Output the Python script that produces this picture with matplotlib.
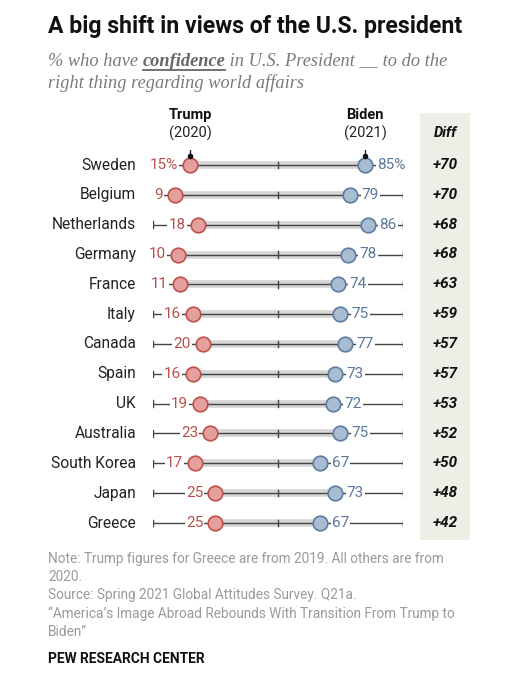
import matplotlib
matplotlib.use("Agg")
import matplotlib.pyplot as plt
from matplotlib.patches import Rectangle

countries = ["Sweden", "Belgium", "Netherlands", "Germany", "France", "Italy", "Canada",
             "Spain", "UK", "Australia", "South Korea", "Japan", "Greece"]
trump = [15, 9, 18, 10, 11, 16, 20, 16, 19, 23, 17, 25, 25]
biden = [85, 79, 86, 78, 74, 75, 77, 73, 72, 75, 67, 73, 67]
diff = [70, 70, 68, 68, 63, 59, 57, 57, 53, 52, 50, 48, 42]
axis_ticks = [0, 50, 100]

W, H = 516, 680
fig = plt.figure(figsize=(W / 100, H / 100), dpi=100)
fig.patch.set_facecolor("white")

def fx(px):
    return px / W

def fy(py):
    return 1 - py / H

SANS = ["Roboto", "DejaVu Sans"]
SERIF = ["Liberation Serif", "DejaVu Serif"]

# Diff column background
fig.patches.append(Rectangle((fx(420), fy(540)), fx(470) - fx(420), fy(113) - fy(540),
                             transform=fig.transFigure, facecolor="#efeee6", edgecolor="none", zorder=0))

# main axes: x 0..100 -> px 152.5..402.5 ; rows 0..12 -> py 165..523
row_h = (523 - 165) / 12
top_px = 165 - row_h / 2
bot_px = 523 + row_h / 2
ax = fig.add_axes([fx(152.5), fy(bot_px), fx(402.5) - fx(152.5), fy(top_px) - fy(bot_px)])
ax.set_xlim(0, 100)
ax.set_ylim(len(countries) - 0.5, -0.5)
ax.axis("off")
ax.patch.set_alpha(0)

RED_FILL, RED_EDGE, RED_TXT = "#e3a09d", "#c0504b", "#b9504b"
BLUE_FILL, BLUE_EDGE, BLUE_TXT = "#a8bdd2", "#5b7ca0", "#5a789c"
LINE = "#444444"

for i, c in enumerate(countries):
    t, b = trump[i], biden[i]
    # thin axis line
    ax.plot([axis_ticks[0], axis_ticks[-1]], [i, i], color=LINE, lw=1.0, zorder=2, solid_capstyle="butt")
    for tk in axis_ticks:
        ax.plot([tk, tk], [i - 0.11, i + 0.11], color=LINE, lw=1.0, zorder=2)
    # grey band
    ax.plot([t, b], [i, i], color="#d6d6d6", lw=5.5, zorder=1, solid_capstyle="butt")
    # dots
    ax.plot([t], [i], "o", ms=10.5, mfc=RED_FILL, mec=RED_EDGE, mew=1.2, zorder=5)
    ax.plot([b], [i], "o", ms=10.5, mfc=BLUE_FILL, mec=BLUE_EDGE, mew=1.2, zorder=5)
    tl = f"{t}%" if i == 0 else f"{t}"
    bl = f"{b}%" if i == 0 else f"{b}"
    ax.annotate(tl, (t, i), xytext=(-8.5, 0), textcoords="offset points", ha="right", va="center",
                fontsize=11, color=RED_TXT, family=SANS, zorder=4,
                bbox=dict(boxstyle="square,pad=0.08", fc="white", ec="none"))
    ax.annotate(bl, (b, i), xytext=(8.5, 0), textcoords="offset points", ha="left", va="center",
                fontsize=11, color=BLUE_TXT, family=SANS, zorder=4,
                bbox=dict(boxstyle="square,pad=0.08", fc="white", ec="none"))
    # country label
    fig.text(fx(136), fy(165 + i * row_h), c, ha="right", va="center", fontsize=11.2,
             color="#222222", family=SANS)
    # diff
    fig.text(fx(445), fy(165 + i * row_h), f"+{diff[i]}", ha="center", va="center", fontsize=11,
             color="#111111", family=SANS, weight="bold", style="italic")

# headers
for xv, name, yr in [(trump[0], "Trump", "(2020)"), (biden[0], "Biden", "(2021)")]:
    ax.plot([xv, xv], [-0.75, -0.3], color="#222", lw=1.0, zorder=6)
    ax.plot([xv], [-0.3], "o", ms=3, color="#111", zorder=6)
    xpix = 152.5 + xv * 2.5
    fig.text(fx(xpix), fy(115), name, ha="center", va="center", fontsize=10.5, weight="bold",
             color="#111", family=SANS)
    fig.text(fx(xpix), fy(133), yr, ha="center", va="center", fontsize=10.5, color="#222", family=SANS)

fig.text(fx(445), fy(133), "Diff", ha="center", va="center", fontsize=10.5, weight="bold",
         style="italic", color="#111", family=SANS)

# title
fig.text(fx(48), fy(26), "A big shift in views of the U.S. president", ha="left", va="center",
         fontsize=16.6, weight="bold", color="#111", family=SANS)

# subtitle with bold underlined word
fig.canvas.draw()
renderer = fig.canvas.get_renderer()
sub_col = "#7a7a7a"
SFS = 13.2
sy = fy(61)
t1 = fig.text(fx(48), sy, "% who have ", ha="left", va="center", fontsize=SFS, style="italic",
              color=sub_col, family=SERIF)
bb1 = t1.get_window_extent(renderer)
t2 = fig.text(bb1.x1 / W, sy, "confidence", ha="left", va="center", fontsize=SFS, style="italic",
              weight="bold", color="#666666", family=SERIF)
bb2 = t2.get_window_extent(renderer)
fig.lines.append(plt.Line2D([bb2.x0 / W, bb2.x1 / W], [fy(69.5), fy(69.5)], transform=fig.transFigure,
                            color="#666666", lw=1.3))
fig.text(bb2.x1 / W, sy, " in U.S. President __ to do the", ha="left", va="center", fontsize=SFS,
         style="italic", color=sub_col, family=SERIF)
fig.text(fx(48), fy(83), "right thing regarding world affairs", ha="left", va="center", fontsize=SFS,
         style="italic", color=sub_col, family=SERIF)

# notes
notes = ["Note: Trump figures for Greece are from 2019. All others are from",
         "2020.",
         "Source: Spring 2021 Global Attitudes Survey. Q21a.",
         "\u201cAmerica\u2019s Image Abroad Rebounds With Transition From Trump to",
         "Biden\u201d"]
for k, ln in enumerate(notes):
    fig.text(fx(48), fy(559 + k * 18.2), ln, ha="left", va="center", fontsize=9.8, color="#9a9a9a",
             family=SANS)
fig.text(fx(48), fy(659), "PEW RESEARCH CENTER", ha="left", va="center", fontsize=9.9, weight="bold",
         color="#111", family=SANS)

fig.savefig("out.png", dpi=100)
